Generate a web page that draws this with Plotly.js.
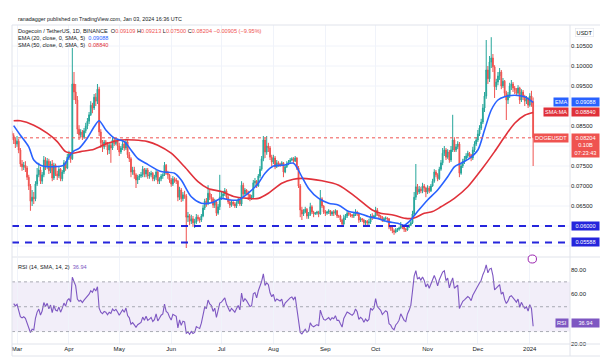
<!DOCTYPE html>
<html><head><meta charset="utf-8">
<script src="https://cdn.plot.ly/plotly-3.0.1.min.js"></script>
<style>html,body{margin:0;padding:0;background:#fff}#chart{width:600px;height:360px}</style>
</head><body><div id="chart"></div>
<script>
// ---------- DATA ----------
const startDate = '2023-02-26';   // first daily candle
const firstOpen = 0.0832;         // open of the first candle (later opens = previous close, 24/7 market)
const closes = [
0.0826,0.0815,0.0805,
0.0812,0.0790,0.0755,0.0748,0.0752,0.0745,0.0722,0.0700,0.0662,0.0672,0.0668,0.0705,0.0728,0.0740,0.0712,0.0728,0.0765,0.0748,0.0762,0.0738,0.0755,0.0720,0.0752,0.0730,0.0725,0.0742,0.0718,0.0735,0.0758,0.0745,0.0772,
0.0780,0.0768,0.0955,0.0935,0.0915,0.0842,0.0828,0.0835,0.0822,0.0838,0.0850,0.0862,0.0878,0.0902,0.0895,0.0922,0.0912,0.0942,0.0835,0.0808,0.0798,0.0810,0.0805,0.0790,0.0802,0.0795,0.0815,0.0806,0.0812,0.0800,
0.0785,0.0795,0.0805,0.0795,0.0810,0.0778,0.0768,0.0735,0.0740,0.0728,0.0715,0.0722,0.0725,0.0728,0.0742,0.0730,0.0740,0.0725,0.0728,0.0732,0.0718,0.0722,0.0735,0.0712,0.0718,0.0725,0.0728,0.0752,0.0732,0.0728,0.0715,
0.0705,0.0718,0.0715,0.0712,0.0672,0.0690,0.0668,0.0678,0.0675,0.0622,0.0625,0.0612,0.0618,0.0608,0.0610,0.0622,0.0618,0.0615,0.0625,0.0645,0.0662,0.0658,0.0682,0.0672,0.0668,0.0652,0.0660,0.0632,0.0648,0.0672,
0.0675,0.0680,0.0688,0.0672,0.0660,0.0652,0.0660,0.0655,0.0650,0.0658,0.0665,0.0655,0.0702,0.0680,0.0690,0.0685,0.0678,0.0670,0.0672,0.0708,0.0712,0.0700,0.0725,0.0742,0.0768,0.0815,0.0785,0.0800,0.0795,0.0772,0.0760,
0.0770,0.0748,0.0758,0.0755,0.0752,0.0758,0.0735,0.0748,0.0755,0.0760,0.0765,0.0768,0.0762,0.0770,0.0745,0.0700,0.0640,0.0630,0.0635,0.0642,0.0625,0.0628,0.0648,0.0635,0.0630,0.0632,0.0635,0.0630,0.0668,0.0650,0.0635,
0.0632,0.0635,0.0638,0.0630,0.0635,0.0632,0.0638,0.0625,0.0625,0.0615,0.0605,0.0620,0.0625,0.0632,0.0630,0.0628,0.0625,0.0628,0.0635,0.0630,0.0615,0.0618,0.0615,0.0608,0.0612,0.0608,0.0610,0.0625,0.0622,0.0625,
0.0640,0.0628,0.0625,0.0622,0.0615,0.0618,0.0620,0.0618,0.0598,0.0595,0.0588,0.0585,0.0590,0.0592,0.0595,0.0602,0.0598,0.0592,0.0590,0.0598,0.0602,0.0608,0.0630,0.0672,0.0698,0.0685,0.0692,0.0688,0.0700,0.0695,0.0685,
0.0695,0.0688,0.0700,0.0712,0.0735,0.0728,0.0718,0.0742,0.0758,0.0782,0.0790,0.0772,0.0785,0.0765,0.0790,0.0815,0.0790,0.0798,0.0805,0.0732,0.0750,0.0762,0.0768,0.0775,0.0782,0.0778,0.0770,0.0790,0.0805,0.0815,
0.0830,0.0845,0.0860,0.0895,0.0925,0.0990,0.0968,0.1010,0.1020,0.0998,0.0948,0.0960,0.0975,0.0985,0.0950,0.0962,0.0932,0.0915,0.0928,0.0950,0.0955,0.0945,0.0940,0.0932,0.0945,0.0915,0.0935,0.0922,0.0912,0.0918,0.0902,
0.0925,0.09109,0.08204];
const highs = [
0.0838,0.0832,0.0822,
0.0825,0.0818,0.0795,0.0765,0.0760,0.0762,0.0750,0.0728,0.0705,0.0690,0.0685,0.0712,0.0745,0.0758,0.0748,0.0735,0.0775,0.0772,0.0770,0.0768,0.0762,0.0765,0.0758,0.0756,0.0738,0.0748,0.0745,0.0740,0.0765,0.0762,0.0780,
0.0788,0.0785,0.1045,0.0985,0.0955,0.0925,0.0852,0.0842,0.0840,0.0845,0.0858,0.0870,0.0885,0.0912,0.0908,0.0930,0.0932,0.0955,0.0948,0.0842,0.0815,0.0815,0.0815,0.0810,0.0808,0.0810,0.0822,0.0820,0.0818,0.0818,
0.0808,0.0800,0.0812,0.0810,0.0818,0.0815,0.0785,0.0772,0.0748,0.0748,0.0732,0.0728,0.0730,0.0735,0.0750,0.0745,0.0745,0.0745,0.0735,0.0738,0.0735,0.0728,0.0742,0.0738,0.0722,0.0730,0.0732,0.0760,0.0755,0.0738,0.0730,
0.0720,0.0725,0.0722,0.0720,0.0715,0.0698,0.0695,0.0685,0.0688,0.0680,0.0635,0.0630,0.0628,0.0625,0.0618,0.0630,0.0628,0.0622,0.0630,0.0652,0.0668,0.0670,0.0702,0.0690,0.0680,0.0672,0.0668,0.0665,0.0655,0.0728,
0.0685,0.0688,0.0695,0.0692,0.0678,0.0668,0.0665,0.0662,0.0660,0.0662,0.0670,0.0668,0.0712,0.0708,0.0695,0.0692,0.0688,0.0680,0.0678,0.0715,0.0720,0.0715,0.0730,0.0750,0.0775,0.0825,0.0820,0.0825,0.0808,0.0800,0.0778,
0.0778,0.0775,0.0765,0.0762,0.0758,0.0762,0.0760,0.0752,0.0762,0.0765,0.0770,0.0772,0.0772,0.0775,0.0772,0.0750,0.0705,0.0648,0.0642,0.0648,0.0645,0.0635,0.0658,0.0652,0.0638,0.0635,0.0638,0.0638,0.0690,0.0672,0.0652,
0.0640,0.0638,0.0642,0.0640,0.0638,0.0640,0.0642,0.0640,0.0628,0.0628,0.0618,0.0628,0.0630,0.0640,0.0635,0.0632,0.0630,0.0635,0.0642,0.0638,0.0632,0.0622,0.0620,0.0618,0.0615,0.0615,0.0618,0.0630,0.0632,0.0628,
0.0648,0.0645,0.0632,0.0628,0.0625,0.0622,0.0624,0.0622,0.0620,0.0602,0.0598,0.0592,0.0595,0.0595,0.0598,0.0610,0.0605,0.0600,0.0595,0.0602,0.0605,0.0612,0.0638,0.0685,0.0755,0.0705,0.0700,0.0698,0.0708,0.0705,0.0698,
0.0702,0.0700,0.0705,0.0718,0.0742,0.0740,0.0732,0.0748,0.0765,0.0795,0.0800,0.0795,0.0792,0.0790,0.0800,0.0878,0.0822,0.0805,0.0812,0.0810,0.0755,0.0768,0.0775,0.0782,0.0788,0.0785,0.0780,0.0798,0.0812,0.0822,
0.0840,0.0852,0.0868,0.0905,0.0935,0.1065,0.1000,0.1025,0.1072,0.1030,0.1002,0.0968,0.0985,0.0995,0.0990,0.0970,0.0965,0.0938,0.0935,0.0958,0.0965,0.0960,0.0950,0.0945,0.0952,0.0948,0.0942,0.0940,0.0928,0.0925,0.0922,
0.0932,0.0938,0.09213];
const lows = [
0.0815,0.0805,0.0795,
0.0798,0.0782,0.0748,0.0738,0.0740,0.0735,0.0715,0.0690,0.0638,0.0650,0.0655,0.0662,0.0700,0.0722,0.0705,0.0705,0.0722,0.0740,0.0742,0.0730,0.0732,0.0712,0.0715,0.0725,0.0715,0.0720,0.0712,0.0712,0.0730,0.0738,0.0742,
0.0765,0.0758,0.0765,0.0915,0.0905,0.0830,0.0815,0.0822,0.0815,0.0818,0.0832,0.0842,0.0855,0.0875,0.0882,0.0890,0.0900,0.0905,0.0825,0.0795,0.0785,0.0792,0.0798,0.0778,0.0780,0.0758,0.0790,0.0800,0.0802,0.0790,
0.0775,0.0780,0.0790,0.0788,0.0790,0.0770,0.0760,0.0722,0.0728,0.0718,0.0695,0.0705,0.0715,0.0720,0.0722,0.0722,0.0722,0.0718,0.0718,0.0722,0.0712,0.0712,0.0715,0.0705,0.0705,0.0712,0.0718,0.0725,0.0728,0.0718,0.0708,
0.0698,0.0700,0.0708,0.0705,0.0662,0.0665,0.0660,0.0662,0.0668,0.0545,0.0610,0.0602,0.0605,0.0598,0.0595,0.0605,0.0612,0.0608,0.0610,0.0622,0.0640,0.0648,0.0652,0.0665,0.0660,0.0645,0.0645,0.0625,0.0628,0.0640,
0.0665,0.0668,0.0675,0.0665,0.0655,0.0645,0.0648,0.0650,0.0645,0.0645,0.0655,0.0650,0.0650,0.0675,0.0678,0.0678,0.0665,0.0662,0.0665,0.0668,0.0700,0.0695,0.0698,0.0720,0.0738,0.0762,0.0770,0.0778,0.0785,0.0765,0.0750,
0.0755,0.0742,0.0745,0.0748,0.0748,0.0750,0.0722,0.0732,0.0745,0.0752,0.0758,0.0762,0.0758,0.0760,0.0740,0.0695,0.0622,0.0615,0.0625,0.0632,0.0618,0.0618,0.0625,0.0630,0.0622,0.0628,0.0628,0.0622,0.0628,0.0645,0.0630,
0.0625,0.0628,0.0630,0.0625,0.0625,0.0625,0.0628,0.0620,0.0620,0.0610,0.0600,0.0602,0.0615,0.0620,0.0625,0.0622,0.0620,0.0620,0.0625,0.0625,0.0608,0.0610,0.0610,0.0602,0.0602,0.0602,0.0602,0.0605,0.0615,0.0618,
0.0622,0.0625,0.0618,0.0615,0.0610,0.0610,0.0615,0.0612,0.0592,0.0588,0.0582,0.0578,0.0582,0.0585,0.0588,0.0592,0.0592,0.0585,0.0585,0.0588,0.0595,0.0600,0.0605,0.0625,0.0665,0.0678,0.0680,0.0682,0.0682,0.0685,0.0672,
0.0680,0.0682,0.0685,0.0698,0.0708,0.0722,0.0712,0.0715,0.0738,0.0752,0.0775,0.0765,0.0768,0.0758,0.0760,0.0785,0.0785,0.0785,0.0792,0.0722,0.0728,0.0745,0.0755,0.0765,0.0770,0.0772,0.0762,0.0765,0.0785,0.0800,
0.0810,0.0825,0.0840,0.0855,0.0885,0.0918,0.0955,0.0960,0.0995,0.0985,0.0920,0.0940,0.0952,0.0965,0.0942,0.0945,0.0925,0.0865,0.0905,0.0920,0.0940,0.0935,0.0930,0.0925,0.0928,0.0905,0.0910,0.0915,0.0900,0.0905,0.0895,
0.0898,0.0898,0.0750];

// EMA(20) smoothed line
const emaDates = ['2023-02-27','2023-03-03','2023-03-08','2023-03-11','2023-03-15','2023-03-23','2023-03-29','2023-04-01','2023-04-04','2023-04-07','2023-04-12','2023-04-16','2023-04-19','2023-04-23','2023-04-28','2023-05-04','2023-05-08','2023-05-12','2023-05-18','2023-05-26','2023-06-03','2023-06-07','2023-06-13','2023-06-19','2023-06-25','2023-07-01','2023-07-06','2023-07-11','2023-07-17','2023-07-23','2023-07-27','2023-08-01','2023-08-07','2023-08-13','2023-08-18','2023-08-22','2023-08-28','2023-09-03','2023-09-09','2023-09-15','2023-09-21','2023-09-27','2023-10-02','2023-10-08','2023-10-14','2023-10-18','2023-10-21','2023-10-26','2023-11-01','2023-11-07','2023-11-13','2023-11-17','2023-11-21','2023-11-26','2023-12-01','2023-12-05','2023-12-09','2023-12-13','2023-12-17','2023-12-23','2023-12-29','2024-01-03'];
const emaVals = [0.0851,0.0827,0.0798,0.0765,0.0752,0.0748,0.0752,0.0773,0.0788,0.0794,0.0820,0.0848,0.0863,0.0840,0.0820,0.0811,0.0790,0.0769,0.0754,0.0736,0.0732,0.0715,0.0673,0.0657,0.0658,0.0669,0.0665,0.0665,0.0682,0.0707,0.0732,0.0750,0.0752,0.0757,0.0723,0.0694,0.0669,0.0657,0.0652,0.0636,0.0632,0.0623,0.0619,0.0611,0.0607,0.0602,0.0611,0.0636,0.0665,0.0690,0.0723,0.0748,0.0757,0.0769,0.0790,0.0840,0.0890,0.0915,0.0923,0.0927,0.0923,0.09088];
// SMA(50) smoothed line
const smaDates = ['2023-02-27','2023-03-03','2023-03-11','2023-03-19','2023-03-25','2023-03-30','2023-04-03','2023-04-08','2023-04-16','2023-04-24','2023-05-02','2023-05-10','2023-05-18','2023-05-24','2023-06-01','2023-06-09','2023-06-17','2023-06-23','2023-07-01','2023-07-09','2023-07-17','2023-07-23','2023-07-29','2023-08-06','2023-08-13','2023-08-18','2023-08-30','2023-09-09','2023-09-19','2023-09-29','2023-10-04','2023-10-12','2023-10-19','2023-10-24','2023-10-30','2023-11-04','2023-11-09','2023-11-17','2023-11-25','2023-12-03','2023-12-11','2023-12-17','2023-12-23','2023-12-29','2024-01-03'];
const smaVals = [0.0863,0.0863,0.0852,0.0832,0.0811,0.0786,0.0782,0.0786,0.0792,0.0807,0.0815,0.0815,0.0811,0.0802,0.0782,0.0748,0.0711,0.0694,0.0686,0.0673,0.0669,0.0669,0.0682,0.0707,0.0717,0.0719,0.0713,0.0702,0.0673,0.0640,0.0632,0.0627,0.0619,0.0620,0.0632,0.0636,0.0648,0.0669,0.0698,0.0740,0.0786,0.0823,0.0857,0.0877,0.0884];

const levels = [0.06000, 0.05588];            // horizontal support lines
const rsiLast = 36.94;                         // RSI value shown on the label
const rsiLen = 14;
const rsiSeed = {gain: 0.0012, loss: 0.0010};  // starting averages (history before the first candle)
const monthTicks = ['2023-03-01','2023-04-01','2023-05-01','2023-06-01','2023-07-01','2023-08-01','2023-09-01','2023-10-01','2023-11-01','2023-12-01','2024-01-01'];
const monthLabels = ['Mar','Apr','May','Jun','Jul','Aug','Sep','Oct','Nov','Dec','2024'];
const priceGrid = [0.055,0.060,0.065,0.070,0.075,0.080,0.085,0.090,0.095,0.100,0.105];
const priceLabels = [0.065,0.070,0.075,0.085,0.095,0.100,0.105];   // the others sit under value tags
const rsiTicks = [20,60,80];                                        // 40 sits under the RSI tag
const changeText = '\u22120.00905 (\u22129.95%)';
const countdownText = '07:23:43';
const extraText = '0.10B';

// ---------- DERIVED ----------
function addDays(s, n){ const d = new Date(s + 'T00:00:00Z'); d.setUTCDate(d.getUTCDate() + n); return d.toISOString().slice(0,10); }
const dates = closes.map((_, i) => addDays(startDate, i));
const opens = closes.map((c, i) => i === 0 ? firstOpen : closes[i-1]);
const rsiX = [], rsiY = [];
(function(){
  let ag = rsiSeed.gain, al = rsiSeed.loss;
  for (let i = 1; i < closes.length; i++){
    const ch = closes[i] - closes[i-1];
    ag = (ag*(rsiLen-1) + Math.max(ch,0)) / rsiLen;
    al = (al*(rsiLen-1) + Math.max(-ch,0)) / rsiLen;
    rsiX.push(dates[i]);
    rsiY.push(al === 0 ? 100 : 100 - 100/(1 + ag/al));
  }
})();
const L = closes.length - 1;
const emaLast = emaVals[emaVals.length-1], smaLast = smaVals[smaVals.length-1];

// ---------- PLOT ----------
const FONT = 'Liberation Sans, Arial, sans-serif';
const RED = '#ef5350', GREEN = '#26a69a', BLUE = '#2962ff', SMAC = '#e0313a', PURPLE = '#7e57c2', LEVEL = '#2525dc';
const traces = [
  {type:'candlestick', x:dates, open:opens, high:highs, low:lows, close:closes, xaxis:'x', yaxis:'y',
   increasing:{line:{color:GREEN, width:1}, fillcolor:GREEN},
   decreasing:{line:{color:RED, width:1}, fillcolor:RED},
   whiskerwidth:0, hoverinfo:'skip'},
  {type:'scatter', mode:'lines', x:smaDates, y:smaVals, xaxis:'x', yaxis:'y',
   line:{color:SMAC, width:1.6, shape:'spline', smoothing:0.8}, hoverinfo:'skip'},
  {type:'scatter', mode:'lines', x:emaDates, y:emaVals, xaxis:'x', yaxis:'y',
   line:{color:BLUE, width:1.6, shape:'spline', smoothing:0.8}, hoverinfo:'skip'},
  {type:'scatter', mode:'lines', x:rsiX, y:rsiY, xaxis:'x', yaxis:'y2',
   line:{color:PURPLE, width:1.1}, hoverinfo:'skip'}
];

const px = v => (v - 12) / 558;          // pixel -> paper x
const py = v => (344 - v) / 319;         // pixel -> paper y
const BORDER = '#e0e3eb';
const shapes = [];
priceGrid.forEach(g => shapes.push({type:'line', xref:'paper', yref:'y', x0:0, x1:1, y0:g, y1:g, layer:'below', line:{color:'#f0f3fa', width:1}}));
levels.forEach(l => shapes.push({type:'line', xref:'paper', yref:'y', x0:0, x1:1, y0:l, y1:l, line:{color:LEVEL, width:2, dash:'7px,6px'}}));
shapes.push({type:'line', xref:'paper', yref:'y', x0:0, x1:1, y0:closes[L], y1:closes[L], line:{color:RED, width:1, dash:'dot'}});
shapes.push({type:'rect', xref:'paper', yref:'y2', x0:0, x1:1, y0:30, y1:70, fillcolor:'rgba(126,87,194,0.10)', line:{width:0}, layer:'below'});
[70,50,30].forEach(v => shapes.push({type:'line', xref:'paper', yref:'y2', x0:0, x1:1, y0:v, y1:v, line:{color:'#9598a1', width:0.8, dash:'3px,3px'}}));
shapes.push({type:'line', xref:'paper', yref:'paper', x0:0, x1:px(600), y0:py(257), y1:py(257), line:{color:BORDER, width:1}});
shapes.push({type:'line', xref:'paper', yref:'paper', x0:0, x1:px(600), y0:1, y1:1, line:{color:BORDER, width:1}});
shapes.push({type:'line', xref:'paper', yref:'paper', x0:0, x1:px(600), y0:0, y1:0, line:{color:BORDER, width:1}});
shapes.push({type:'line', xref:'paper', yref:'paper', x0:0, x1:px(600), y0:py(356), y1:py(356), line:{color:BORDER, width:1}});
shapes.push({type:'line', xref:'paper', yref:'paper', x0:0, x1:0, y0:py(356), y1:1, line:{color:BORDER, width:1}});
shapes.push({type:'line', xref:'paper', yref:'paper', x0:1, x1:1, y0:py(356), y1:1, line:{color:BORDER, width:1}});
shapes.push({type:'circle', xref:'x', yref:'paper', x0:addDays(dates[L],-3), x1:addDays(dates[L],2), y0:py(263), y1:py(255), line:{color:'#9c27b0', width:1}, fillcolor:'#ffffff'});

const sp = (c, t) => `<span style="color:${c}">${t}</span>`;
const f5 = v => v.toFixed(5);
const ann = [];
const hdr = (y, text, size) => ann.push({xref:'paper', yref:'paper', x:px(16), y:py(y), xanchor:'left', yanchor:'middle', showarrow:false, align:'left', text, font:{family:FONT, size:size||5.6, color:'#131722'}});
hdr(19, 'ranadagger published on TradingView.com, Jan 03, 2024 16:36 UTC', 5.4);
hdr(31, 'Dogecoin / TetherUS, 1D, BINANCE  O' + sp(RED, f5(opens[L])) + ' H' + sp(RED, f5(highs[L])) + ' L' + sp(RED, f5(lows[L])) + ' C' + sp(RED, f5(closes[L])) + ' ' + sp(RED, changeText));
hdr(38, 'EMA (20, close, 0, SMA, 5)  ' + sp(BLUE, f5(emaLast)));
hdr(45, 'SMA (50, close, 0, SMA, 5)  ' + sp(SMAC, f5(smaLast)));
hdr(267, 'RSI (14, SMA, 14, 2)  ' + sp(PURPLE, rsiLast.toFixed(2)));
ann.push({xref:'paper', yref:'paper', x:px(575), y:py(32), xanchor:'left', yanchor:'middle', showarrow:false, text:'USDT', font:{family:FONT, size:5.6, color:'#131722'}, bordercolor:BORDER, borderwidth:0.6, borderpad:1});
const tag = (yref, y, text, bg) => ann.push({xref:'paper', yref, x:px(569), y, xanchor:'right', yanchor:'middle', showarrow:false, text, bgcolor:bg, borderpad:1, font:{family:FONT, size:5.6, color:'#ffffff'}});
const val = (yref, y, text, bg, extra) => ann.push(Object.assign({xref:'paper', yref, x:px(571), y, xanchor:'left', yanchor:'middle', showarrow:false, text, bgcolor:bg, borderpad:1, width:25, align:'center', font:{family:FONT, size:5.6, color:'#ffffff'}}, extra||{}));
tag('y', emaLast, 'EMA', BLUE); val('y', emaLast, f5(emaLast), BLUE);
tag('y', smaLast, 'SMA:MA', SMAC); val('y', smaLast, f5(smaLast), SMAC);
tag('y', closes[L], 'DOGEUSDT', RED);
val('y', closes[L], f5(closes[L]) + '<br>' + extraText + '<br>' + countdownText, RED, {yanchor:'top', yshift:5});
levels.forEach(l => val('y', l, f5(l), LEVEL));
tag('y2', rsiLast, 'RSI', PURPLE); val('y2', rsiLast, rsiLast.toFixed(2), PURPLE);

const layout = {
  width:600, height:360, margin:{l:12, r:30, t:25, b:16},
  paper_bgcolor:'#ffffff', plot_bgcolor:'#ffffff', showlegend:false,
  font:{family:FONT, size:6, color:'#131722'},
  xaxis:{type:'date', range:[startDate, '2024-01-25'], anchor:'y2', tickvals:monthTicks, ticktext:monthLabels,
         showgrid:true, gridcolor:'#f0f3fa', gridwidth:1, ticks:'', showline:false, zeroline:false,
         rangeslider:{visible:false}, tickfont:{family:FONT, size:6, color:'#131722'}},
  yaxis:{domain:[py(256), 1], range:[0.0525, 0.11025], side:'right', tickvals:priceLabels, tickformat:'.5f',
         showgrid:false, ticks:'', showline:false, zeroline:false, tickfont:{family:FONT, size:6, color:'#131722'}},
  yaxis2:{domain:[0, py(258)], range:[20, 89.2], side:'right', tickvals:rsiTicks, tickformat:'.2f',
          showgrid:false, ticks:'', showline:false, zeroline:false, tickfont:{family:FONT, size:6, color:'#131722'}},
  shapes, annotations:ann
};
Plotly.newPlot('chart', traces, layout, {staticPlot:true, displayModeBar:false});
</script></body></html>
